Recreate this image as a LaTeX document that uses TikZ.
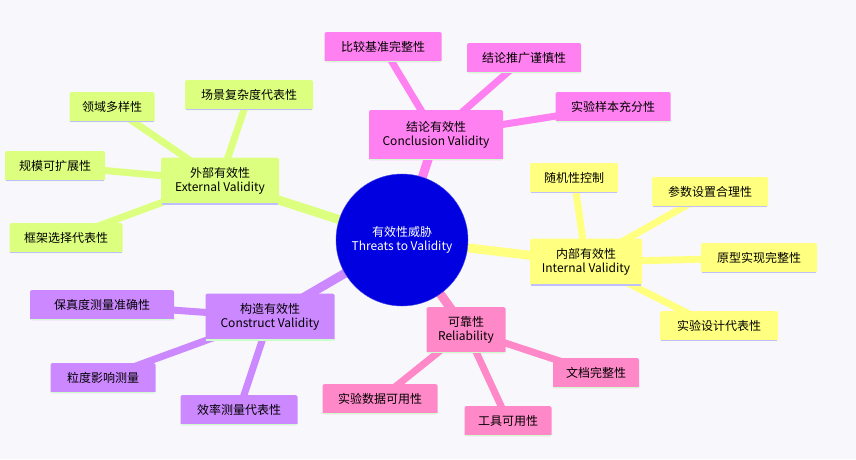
\documentclass[tikz,border=0pt]{standalone}
\usepackage{fontspec}
\setmainfont{Noto Sans CJK SC}
\definecolor{bg}{HTML}{F8F8FC}
\definecolor{cpk}{HTML}{FF80F0}
\definecolor{clm}{HTML}{DDFF80}
\definecolor{cyl}{HTML}{FFFF80}
\definecolor{cpu}{HTML}{CC88FF}
\definecolor{crs}{HTML}{FF88C8}
\definecolor{cen}{HTML}{0000E0}
\begin{document}
\begin{tikzpicture}[x=1pt,y=-1pt,
  bx/.style={fill=#1,rounded corners=1.5pt,inner sep=0pt,font=\fontsize{12}{14}\selectfont,align=center},
  lk/.style={draw=#1,line width=9pt},
  sk/.style={draw=#1,line width=7pt}]
\fill[bg] (0,0) rectangle (856,459);
\useasboundingbox (0,0) rectangle (856,459);
\def\B#1#2#3#4#5#6#7#8{%
  \node[bx=#6,minimum width=#4,minimum height=#5,text=black] (#1) at (#2,#3) {#7};
  \draw[#8,line width=1.5pt] ([xshift=1pt,yshift=0.75pt]#1.south west) -- ([xshift=-1pt,yshift=0.75pt]#1.south east);}
\coordinate (c) at (402,240);
\coordinate (con) at (436,135);\coordinate (ext) at (220,181);\coordinate (int) at (586,262);
\coordinate (cst) at (270,317);\coordinate (rel) at (466,330);
\draw[sk=cpk] (con) -- (383,47); \draw[sk=cpk] (con) -- (524,58); \draw[sk=cpk] (con) -- (613,107);
\draw[sk=clm] (ext) -- (249,95); \draw[sk=clm] (ext) -- (112,107); \draw[sk=clm] (ext) -- (55,166); \draw[sk=clm] (ext) -- (66,238);
\draw[sk=cyl] (int) -- (574,178); \draw[sk=cyl] (int) -- (710,192); \draw[sk=cyl] (int) -- (757,258); \draw[sk=cyl] (int) -- (713,326);
\draw[sk=cpu] (cst) -- (102,305); \draw[sk=cpu] (cst) -- (103,378); \draw[sk=cpu] (cst) -- (239,410);
\draw[sk=crs] (rel) -- (380,399); \draw[sk=crs] (rel) -- (508,421); \draw[sk=crs] (rel) -- (596,373);
\draw[lk=cpk] (c) -- (con); \draw[lk=clm] (c) -- (ext); \draw[lk=cyl] (c) -- (int);
\draw[lk=cpu] (c) -- (cst); \draw[lk=crs] (c) -- (rel);
\node[circle,fill=cen,draw=cen!70!white,minimum size=132pt,inner sep=0pt,text=white,align=center,font=\fontsize{12}{14}\selectfont] (center) at (c) {有效性威胁\\Threats to Validity};
\B{n1}{436}{135}{134}{50}{cpk}{结论有效性\\Conclusion Validity}{green!20}
\B{n11}{383}{47}{117}{30}{cpk}{比较基准完整性}{green!20}
\B{n12}{524}{58}{114}{30}{cpk}{结论推广谨慎性}{green!20}
\B{n13}{613}{107}{115}{30}{cpk}{实验样本充分性}{green!20}
\B{n2}{220}{181}{118}{47}{clm}{外部有效性\\External Validity}{blue!25}
\B{n21}{249}{95}{128}{30}{clm}{场景复杂度代表性}{blue!25}
\B{n22}{112}{107}{85}{30}{clm}{领域多样性}{blue!25}
\B{n23}{55}{166}{100}{30}{clm}{规模可扩展性}{blue!25}
\B{n24}{66}{238}{113}{30}{clm}{框架选择代表性}{blue!25}
\B{n3}{586}{262}{112}{47}{cyl}{内部有效性\\Internal Validity}{blue!25}
\B{n31}{574}{178}{88}{30}{cyl}{随机性控制}{blue!25}
\B{n32}{710}{192}{116}{30}{cyl}{参数设置合理性}{blue!25}
\B{n33}{759}{258}{116}{30}{cyl}{原型实现完整性}{blue!25}
\B{n34}{719}{326}{118}{30}{cyl}{实验设计代表性}{blue!25}
\B{n4}{270}{317}{129}{47}{cpu}{构造有效性\\Construct Validity}{green!20}
\B{n41}{102}{305}{144}{30}{cpu}{保真度测量准确性}{green!20}
\B{n42}{103}{378}{105}{30}{cpu}{粒度影响测量}{green!20}
\B{n43}{239}{410}{117}{30}{cpu}{效率测量代表性}{green!20}
\B{n5}{466}{330}{79}{46}{crs}{可靠性\\Reliability}{green!20}
\B{n51}{380}{399}{115}{30}{crs}{实验数据可用性}{green!20}
\B{n52}{508}{421}{87}{30}{crs}{工具可用性}{green!20}
\B{n53}{596}{373}{86}{30}{crs}{文档完整性}{green!20}
\end{tikzpicture}
\end{document}
